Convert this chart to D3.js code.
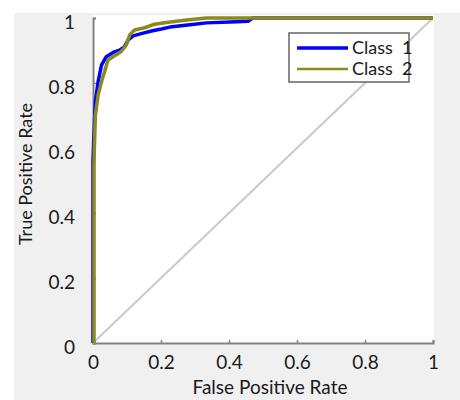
<!DOCTYPE html>
<html>
<head>
<meta charset="utf-8">
<script src="https://cdn.jsdelivr.net/npm/d3@7"></script>
<style>
  body { margin: 0; background: #fff; }
  text { font-family: Lato, "Open Sans", sans-serif; fill: #1a1a1a; }
</style>
</head>
<body>
<svg width="460" height="400"></svg>
<script>
// tick values
const xTicks = [0, 0.2, 0.4, 0.6, 0.8, 1];
const yTicks = [0, 0.2, 0.4, 0.6, 0.8, 1];

// class 1 roc
const class1Fpr = [0, 0, 0.002, 0.004, 0.007, 0.015, 0.025, 0.039, 0.059, 0.078, 0.093, 0.103, 0.118, 0.142, 0.172, 0.201, 0.226, 0.285, 0.334, 0.403, 0.456, 0.47, 1];
const class1Tpr = [0, 0.56, 0.62, 0.67, 0.742, 0.804, 0.855, 0.881, 0.894, 0.901, 0.912, 0.932, 0.945, 0.952, 0.96, 0.966, 0.972, 0.979, 0.985, 0.988, 0.99, 1, 1];

// class 2 roc
const class2Fpr = [0.003, 0.003, 0.004, 0.007, 0.015, 0.025, 0.034, 0.044, 0.059, 0.083, 0.098, 0.108, 0.122, 0.152, 0.181, 0.221, 0.276, 0.334, 1];
const class2Tpr = [0, 0.55, 0.6, 0.70, 0.763, 0.804, 0.835, 0.871, 0.881, 0.897, 0.917, 0.948, 0.963, 0.97, 0.981, 0.987, 0.994, 1, 1];

const legendNames = ['Class  1', 'Class  2'];
const colors = ['#0000ff', '#8b8b1b'];

const svg = d3.select('svg');

// backgrounds
svg.append('rect').attr('x', 14).attr('y', 13).attr('width', 446).attr('height', 387).attr('fill', '#f0f0f0');
svg.append('rect').attr('x', 92).attr('y', 15).attr('width', 342).attr('height', 329).attr('fill', '#fff');

const x = d3.scaleLinear().domain([0, 1]).range([93, 433]);
const y = d3.scaleLinear().domain([0, 1]).range([343, 18]);

// axes
const xAxis = svg.append('g')
    .attr('transform', 'translate(0,343)')
    .call(d3.axisBottom(x).tickValues(xTicks).tickSize(-3).tickPadding(13).tickFormat(d3.format('')));
const yAxis = svg.append('g')
    .attr('transform', 'translate(93,0)')
    .call(d3.axisLeft(y).tickValues(yTicks).tickSize(-3).tickPadding(18).tickFormat(d3.format('')));

[xAxis, yAxis].forEach(g => {
  g.select('.domain').attr('stroke', '#808080').attr('stroke-width', 2);
  g.selectAll('.tick line').attr('stroke', '#808080').attr('stroke-width', 1.5);
  g.selectAll('.tick text').attr('font-size', 19).attr('fill', '#1a1a1a')
    .style('font-family', 'Lato, sans-serif');
});
yAxis.selectAll('.tick text').attr('dy', '0.55em');

// chance line
svg.append('line')
    .attr('x1', x(0)).attr('y1', y(0)).attr('x2', x(1)).attr('y2', y(1))
    .attr('stroke', '#cacaca').attr('stroke-width', 2);

const line = d3.line().x(d => x(d[0])).y(d => y(d[1]));

const series = [
  d3.zip(class1Fpr, class1Tpr),
  d3.zip(class2Fpr, class2Tpr)
];

series.forEach((s, i) => {
  svg.append('path')
      .datum(s)
      .attr('d', line)
      .attr('fill', 'none')
      .attr('stroke', colors[i])
      .attr('stroke-width', 3.5)
      .attr('stroke-linejoin', 'round');
});

// axis titles
svg.append('text')
    .attr('x', 270).attr('y', 394)
    .attr('text-anchor', 'middle')
    .attr('font-size', 19)
    .text('False Positive Rate');
svg.append('text')
    .attr('transform', 'translate(32,174) rotate(-90)')
    .attr('text-anchor', 'middle')
    .attr('font-size', 18)
    .text('True Positive Rate');

// legend
const legend = svg.append('g');
legend.append('rect')
    .attr('x', 289).attr('y', 33).attr('width', 120).attr('height', 49)
    .attr('fill', '#fff').attr('stroke', '#666').attr('stroke-width', 1.5);
legendNames.forEach((name, i) => {
  const ly = 48 + i * 21;
  legend.append('line')
      .attr('x1', 297).attr('x2', 348).attr('y1', ly).attr('y2', ly)
      .attr('stroke', colors[i]).attr('stroke-width', i === 0 ? 3.5 : 2.5);
  legend.append('text')
      .attr('x', 352).attr('y', ly + 6)
      .attr('font-size', 18)
      .style('white-space', 'pre')
      .text(name);
});
</script>
</body>
</html>
